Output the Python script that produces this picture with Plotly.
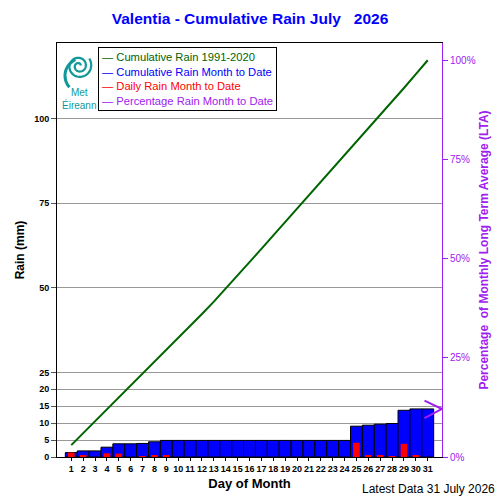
import numpy as np
import plotly.graph_objects as go

# day of month
days = list(range(1, 32))

# daily rain (mm)
daily_rain = [1.3, 0.5, 0.0, 1.1, 1.0, 0.0, 0.1, 0.5, 0.4, 0.0,
              0.0, 0.0, 0.0, 0.0, 0.0, 0.0, 0.0, 0.0, 0.0, 0.0,
              0.0, 0.0, 0.0, 0.0, 4.2, 0.3, 0.3, 0.2, 3.9, 0.4, 0.0]

# cumulative rain month to date (mm), blue bars
cum_rain = [1.3, 1.8, 1.8, 2.9, 3.9, 3.9, 4.0, 4.5, 4.9, 4.9,
            4.9, 4.9, 4.9, 4.9, 4.9, 4.9, 4.9, 4.9, 4.9, 4.9,
            4.9, 4.9, 4.9, 4.9, 9.1, 9.4, 9.7, 9.9, 13.8, 14.2, 14.2]

# cumulative long term average 1991-2020 (mm), green line
lta_cum = [3.5, 7.0, 10.5, 14.0, 17.5, 21.0, 24.5, 28.05, 31.6, 35.15,
           38.7, 42.25, 45.9, 49.7, 53.6, 57.55, 61.5, 65.45, 69.4, 73.35,
           77.3, 81.2, 85.1, 89.0, 92.9, 96.85, 100.85, 104.9, 109.0, 113.1, 117.2]

# percentage of LTA reached to date
pct_to_date = 12.1

y_ticks = [0, 5, 10, 15, 20, 25, 50, 75, 100]
y2_ticks = [0, 25, 50, 75, 100]
y2_labels = ["0%", "25%", "50%", "75%", "100%"]
y_top = 122.3

FONT = "Liberation Sans"
GREEN = "#006400"
BLUE = "#0000FF"
RED = "#FF0000"
PURPLE = "#A020F0"
TEAL = "#11999A"

fig = go.Figure()

fig.add_trace(go.Bar(
    x=days, y=cum_rain, width=1.0, name="Cumulative Rain Month to Date",
    marker=dict(color=BLUE, line=dict(color="black", width=1)),
    showlegend=False,
))
fig.add_trace(go.Bar(
    x=days, y=daily_rain, width=0.56, name="Daily Rain Month to Date",
    marker=dict(color=RED, line=dict(width=0)),
    showlegend=False,
))
fig.add_trace(go.Scatter(
    x=days, y=lta_cum, mode="lines", name="Cumulative Rain 1991-2020",
    line=dict(color=GREEN, width=2), showlegend=False,
))
# invisible trace to carry the right hand axis
fig.add_trace(go.Scatter(
    x=[days[-1]], y=[pct_to_date], yaxis="y2", mode="markers",
    marker=dict(opacity=0), name="Percentage Rain Month to Date",
    showlegend=False, hoverinfo="skip",
))

# percentage marker: purple chevron pointing at the right axis
for ay in (-9, 10):
    fig.add_annotation(
        x=1, xref="x domain", y=pct_to_date, yref="y2",
        text="", showarrow=True, arrowhead=0, arrowwidth=2,
        arrowcolor=PURPLE, ax=-19, ay=ay,
    )

# legend box
legend_lines = [
    (GREEN, "Cumulative Rain 1991-2020"),
    (BLUE, "Cumulative Rain Month to Date"),
    (RED, "Daily Rain Month to Date"),
    (PURPLE, "Percentage Rain Month to Date"),
]
legend_text = "<br>".join(
    f"<span style='color:{c}'>\u2014 {t}</span>" for c, t in legend_lines
)
fig.add_annotation(
    x=0.106, y=0.99, xref="paper", yref="paper",
    xanchor="left", yanchor="top", align="left",
    text=legend_text, showarrow=False,
    font=dict(family=FONT, size=11.2),
    bgcolor="white", bordercolor="black", borderwidth=1, borderpad=3,
)


# Met Eireann logo (spiral + name)
def px(x):
    return (x - 57) / 385


def py(y):
    return (457 - y) / 414


theta = np.linspace(0.3, 4.2 * np.pi, 120)
r = 1.5 + 0.85 * theta
sx = 79 + r * np.cos(theta)
sy = 66 - r * np.sin(theta)
path = "M " + " L ".join(f"{px(a):.4f},{py(b):.4f}" for a, b in zip(sx, sy))
fig.add_shape(type="path", path=path, xref="paper", yref="paper",
              line=dict(color=TEAL, width=2.2))
tail = np.linspace(0.6 * np.pi, 1.25 * np.pi, 30)
tx = 80 + 15 * np.cos(tail)
ty = 72 - 13 * np.sin(tail) + np.linspace(0, 6, 30)
tail_path = "M " + " L ".join(f"{px(a):.4f},{py(b):.4f}" for a, b in zip(tx, ty))
fig.add_shape(type="path", path=tail_path, xref="paper", yref="paper",
              line=dict(color=TEAL, width=3))
fig.add_annotation(
    x=px(79), y=py(99), xref="paper", yref="paper",
    xanchor="center", yanchor="middle",
    text="Met<br>\u00c9ireann", showarrow=False,
    font=dict(family=FONT, size=10, color=TEAL),
)

fig.add_annotation(
    x=px(497), y=py(489), xref="paper", yref="paper",
    xanchor="right", yanchor="middle",
    text="Latest Data 31 July 2026", showarrow=False,
    font=dict(family=FONT, size=12, color="black"),
)

fig.update_layout(
    width=500, height=500,
    margin=dict(l=57, r=58, t=43, b=43),
    paper_bgcolor="white", plot_bgcolor="white",
    barmode="overlay", showlegend=False,
    font=dict(family=FONT, color="black"),
    title=dict(
        text="Valentia - Cumulative Rain July\u00a0\u00a0 2026",
        x=0.5, xanchor="center", y=0.963, yanchor="middle",
        font=dict(family=FONT, size=15.5, color=BLUE, weight="bold"),
    ),
    xaxis=dict(
        range=[-0.2, 32.2], tickvals=days, ticktext=[str(d) for d in days],
        tickangle=0, automargin=False,
        ticks="outside", ticklen=3, tickcolor="black",
        tickfont=dict(size=9, weight="bold"),
        showgrid=False, zeroline=False,
        showline=True, linecolor="black", linewidth=1, mirror=True,
        title=dict(text="Day of Month", standoff=6,
                   font=dict(size=13, weight="bold")),
    ),
    yaxis=dict(
        range=[0, y_top], tickvals=y_ticks, automargin=False,
        ticks="outside", ticklen=5, tickcolor="#555",
        tickfont=dict(size=9, weight="bold"),
        showgrid=True, gridcolor="#999999", gridwidth=1, zeroline=False,
        showline=True, linecolor="black", linewidth=1,
        title=dict(text="Rain (mm)", standoff=6,
                   font=dict(size=12, weight="bold")),
    ),
    yaxis2=dict(
        overlaying="y", side="right", automargin=False,
        range=[0, y_top / lta_cum[-1] * 100],
        tickvals=y2_ticks, ticktext=y2_labels,
        ticks="outside", ticklen=5, tickcolor=PURPLE,
        tickfont=dict(size=10, color=PURPLE),
        showgrid=False, zeroline=False,
        showline=True, linecolor=PURPLE, linewidth=1,
        title=dict(text="Percentage\u00a0\u00a0of Monthly Long Term Average (LTA)",
                   standoff=4,
                   font=dict(size=12, color=PURPLE, weight="bold")),
    ),
)

# drop the browser's default page margin so the figure sits at (0, 0)
fig.write_html("out.html", config={"displayModeBar": False},
               post_script="document.body.style.margin='0';")
